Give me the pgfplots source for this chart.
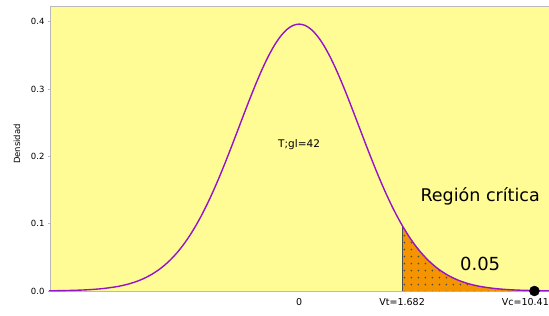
\documentclass[border=0pt]{standalone}
\usepackage{fontspec}
\setmainfont{DejaVu Sans}
\usepackage{pgfplots}
\pgfplotsset{compat=1.18}
\usetikzlibrary{patterns.meta}
\definecolor{bgyellow}{RGB}{255,252,150}
\definecolor{curvepurple}{RGB}{150,20,200}
\definecolor{fillorange}{RGB}{243,148,0}
\definecolor{axgray}{RGB}{185,185,185}
\tikzdeclarepattern{
  name=sparsedots,
  type=uncolored,
  bounding box={(0pt,0pt) and (7.3pt,7.3pt)},
  tile size={(7.3pt,7.3pt)},
  code={\pgfpathcircle{\pgfpoint{3.65pt}{3.65pt}}{1.05pt}\pgfusepath{fill}}
}
\pgfplotstableread{
x y
-4.08 0.00030
-4.0 0.00038
-3.8 0.00069
-3.6 0.00122
-3.4 0.00213
-3.2 0.00364
-3.0 0.00610
-2.9 0.00784
-2.8 0.01001
-2.7 0.01270
-2.6 0.01602
-2.5 0.02010
-2.4 0.02503
-2.3 0.03096
-2.2 0.03801
-2.1 0.04635
-2.0 0.05609
-1.9 0.06736
-1.8 0.08027
-1.7 0.09482
-1.6 0.11114
-1.5 0.12913
-1.4 0.14874
-1.3 0.16981
-1.2 0.19211
-1.1 0.21533
-1.0 0.23911
-0.9 0.26299
-0.8 0.28648
-0.7 0.30904
-0.6 0.33008
-0.5 0.34907
-0.4 0.36544
-0.3 0.37873
-0.2 0.38854
-0.1 0.39455
0.0 0.39657
0.1 0.39455
0.2 0.38854
0.3 0.37873
0.4 0.36544
0.5 0.34907
0.6 0.33008
0.7 0.30904
0.8 0.28648
0.9 0.26299
1.0 0.23911
1.1 0.21533
1.2 0.19211
1.3 0.16981
1.4 0.14874
1.5 0.12913
1.6 0.11114
1.682 0.09764
1.7 0.09482
1.8 0.08027
1.9 0.06736
2.0 0.05609
2.1 0.04635
2.2 0.03801
2.3 0.03096
2.4 0.02503
2.5 0.02010
2.6 0.01602
2.7 0.01270
2.8 0.01001
2.9 0.00784
3.0 0.00610
3.2 0.00364
3.4 0.00213
3.6 0.00122
3.8 0.00069
4.0 0.00038
4.08 0.00030
}\curve
\pgfplotstableread{
x y
1.682 0.09764
1.7 0.09482
1.8 0.08027
1.9 0.06736
2.0 0.05609
2.1 0.04635
2.2 0.03801
2.3 0.03096
2.4 0.02503
2.5 0.02010
2.6 0.01602
2.7 0.01270
2.8 0.01001
2.9 0.00784
3.0 0.00610
3.2 0.00364
3.4 0.00213
3.6 0.00122
3.8 0.00069
4.0 0.00038
4.08 0.00030
}\tail
\begin{document}
\begin{tikzpicture}
\begin{axis}[
  at={(0pt,0pt)}, anchor=south west,
  scale only axis,
  width=498pt, height=284pt,
  xmin=-4.05, xmax=4.08,
  ymin=0, ymax=0.422,
  clip=false,
  axis background/.style={fill=bgyellow},
  axis line style={axgray, line width=1pt},
  xtick={0,1.682},
  xticklabels={0,Vt=1.682},
  extra x ticks={3.842},
  extra x tick labels={Vc=10.41},
  extra x tick style={xticklabel style={anchor=north west, xshift=-36pt}},
  ytick={0,0.1,0.2,0.3,0.4},
  yticklabels={0.0,0.1,0.2,0.3,0.4},
  tick align=outside,
  major tick length=3pt,
  x tick style={draw=none},
  y tick style={axgray, line width=0.8pt},
  xticklabel style={font=\fontsize{9.5}{10}\selectfont, yshift=-1pt},
  yticklabel style={font=\fontsize{8.5}{10}\selectfont},
]
\addplot[fill=fillorange, draw=none] table[x=x,y=y]{\tail} \closedcycle;
\addplot[pattern={sparsedots}, pattern color=black!70, draw=none] table[x=x,y=y]{\tail} \closedcycle;
\addplot[gray!60!black, line width=0.8pt] coordinates {(1.682,0) (1.682,0.09764)};
\addplot[curvepurple, line width=1.4pt, smooth] table[x=x,y=y]{\curve};
\addplot[only marks, mark=*, mark size=5pt, black] coordinates {(3.842,0)};
\node[font=\fontsize{10.5}{12}\selectfont] at (axis cs:0,0.217) {T;gl=42};
\node[font=\fontsize{17.5}{20}\selectfont] at (axis cs:2.956,0.141) {Región crítica};
\node[font=\fontsize{18}{20}\selectfont] at (axis cs:2.956,0.040) {0.05};
\end{axis}
\node[rotate=90, font=\fontsize{8.5}{10}\selectfont] at (-34pt,147pt) {Densidad};
\pgfresetboundingbox
\useasboundingbox (-51pt,-25pt) rectangle (498pt,291pt);
\end{tikzpicture}
\end{document}
